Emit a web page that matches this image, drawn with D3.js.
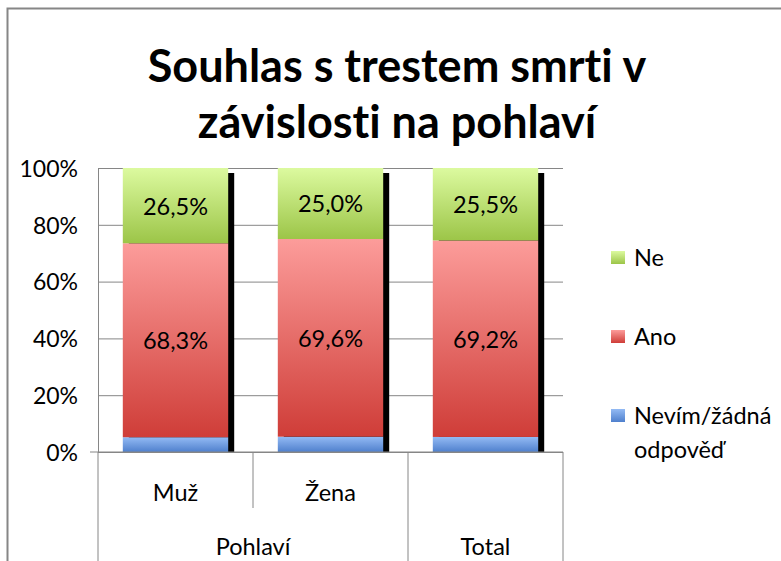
<!DOCTYPE html>
<html>
<head>
<meta charset="utf-8">
<script src="https://cdn.jsdelivr.net/npm/d3@7"></script>
<style>
  body { margin: 0; background: #fff; }
  svg text { font-family: Lato, "Open Sans", sans-serif; fill: #000; font-variant-ligatures: none; font-feature-settings: "liga" 0, "clig" 0; }
</style>
</head>
<body>
<div id="chart"></div>
<script>
// data
const title = ["Souhlas s trestem smrti v", "závislosti na pohlaví"];
const categories = ["Muž", "Žena", "Total"];
const groups = [{ name: "Pohlaví", span: ["Muž", "Žena"] }, { name: "Total", span: ["Total"] }];
const seriesNames = ["Nevím/žádná odpověď", "Ano", "Ne"];
const nevim = [5.2, 5.4, 5.3];
const ano = [68.3, 69.6, 69.2];
const ne = [26.5, 25.0, 25.5];
const yTicks = [0, 20, 40, 60, 80, 100];

const W = 781, H = 561;
const margin = { top: 168, left: 98, right: 218, bottom: 109 };
const width = W - margin.left - margin.right;
const height = H - margin.top - margin.bottom;

const svg = d3.select("#chart").append("svg")
    .attr("width", W)
    .attr("height", H);

// gradients
const colors = {
    "Ne": ["#dcfa9f", "#9cc548"],
    "Ano": ["#fc9c9a", "#cf3d38"],
    "Nevím/žádná odpověď": ["#93baf4", "#4f80cd"]
};
const defs = svg.append("defs");
seriesNames.forEach((s, i) => {
    const g = defs.append("linearGradient")
        .attr("id", "grad" + i)
        .attr("x1", 0).attr("y1", 0).attr("x2", 0).attr("y2", 1);
    g.append("stop").attr("offset", "0%").attr("stop-color", colors[s][0]);
    g.append("stop").attr("offset", "100%").attr("stop-color", colors[s][1]);
});

// outer frame
svg.append("rect")
    .attr("x", 7.5).attr("y", 8.5)
    .attr("width", W + 20).attr("height", H + 20)
    .attr("fill", "none")
    .attr("stroke", "#868686")
    .attr("stroke-width", 2);

// title
svg.append("text")
    .attr("text-anchor", "middle")
    .style("font-weight", "bold")
    .style("font-size", "45px")
    .selectAll("tspan")
    .data(title)
    .join("tspan")
    .attr("x", 397)
    .attr("y", (d, i) => 82 + i * 56)
    .text(d => d);

const g = svg.append("g")
    .attr("transform", "translate(" + margin.left + "," + margin.top + ")");

const x = d3.scaleBand().domain(categories).range([0, width]).paddingInner(0.32).paddingOuter(0.16);
const y = d3.scaleLinear().domain([0, 100]).range([height, 0]);

// gridlines + y axis
const yAxis = g.append("g")
    .call(d3.axisLeft(y).tickValues(yTicks).tickFormat(d => d + "%").tickSize(6).tickSizeOuter(0));
yAxis.select(".domain").attr("stroke", "#868686");
yAxis.selectAll(".tick line").attr("stroke", "#868686").attr("x2", width);
yAxis.selectAll(".tick text")
    .attr("x", -20)
    .attr("dy", "0.36em")
    .style("font-size", "23px")
    .style("font-family", "Lato, sans-serif");

// stacked data
const rows = categories.map((c, i) => ({ cat: c, "Nevím/žádná odpověď": nevim[i], "Ano": ano[i], "Ne": ne[i] }));
const stack = d3.stack().keys(seriesNames)(rows);

// shadows
g.append("g").selectAll("rect")
    .data(rows)
    .join("rect")
    .attr("x", d => x(d.cat) + 6)
    .attr("y", y(100) + 5)
    .attr("width", x.bandwidth())
    .attr("height", y(0) - y(100) - 5)
    .attr("fill", "#000");

// bars
stack.forEach((layer, i) => {
    g.append("g").selectAll("rect")
        .data(layer)
        .join("rect")
        .attr("x", d => x(d.data.cat))
        .attr("y", d => y(d[1]))
        .attr("width", x.bandwidth())
        .attr("height", d => y(d[0]) - y(d[1]))
        .attr("fill", "url(#grad" + i + ")");
});

// labels (Ano, Ne)
stack.slice(1).forEach(layer => {
    g.append("g").selectAll("text")
        .data(layer)
        .join("text")
        .attr("x", d => x(d.data.cat) + x.bandwidth() / 2)
        .attr("y", d => (y(d[0]) + y(d[1])) / 2)
        .attr("dy", "0.38em")
        .attr("text-anchor", "middle")
        .style("font-size", "23.5px")
        .text(d => (d[1] - d[0]).toFixed(1).replace(".", ",") + "%");
});

// category axis (two levels)
const step = x.step();
const axisG = g.append("g").attr("transform", "translate(0," + height + ")");
axisG.append("line")
    .attr("x1", -8).attr("x2", width)
    .attr("stroke", "#868686");
const bounds = [0, step, 2 * step, 3 * step];
axisG.selectAll(".sep")
    .data(bounds)
    .join("line")
    .attr("class", "sep")
    .attr("x1", d => d).attr("x2", d => d)
    .attr("y1", 0)
    .attr("y2", (d, i) => (i === 1 ? 56 : margin.bottom + 10))
    .attr("stroke", "#868686");
axisG.selectAll(".cat")
    .data(["Muž", "Žena"])
    .join("text")
    .attr("class", "cat")
    .attr("x", d => x(d) + x.bandwidth() / 2)
    .attr("y", 49)
    .attr("text-anchor", "middle")
    .style("font-size", "23.5px")
    .text(d => d);
axisG.selectAll(".grp")
    .data(groups)
    .join("text")
    .attr("class", "grp")
    .attr("x", d => {
        const a = x(d.span[0]) - x.step() * x.paddingOuter();
        const b = x(d.span[d.span.length - 1]) + x.bandwidth() + x.step() * x.paddingOuter();
        return (a + b) / 2;
    })
    .attr("y", 103)
    .attr("text-anchor", "middle")
    .style("font-size", "23.5px")
    .text(d => d.name);

// legend
const legendItems = [
    { name: "Ne", lines: ["Ne"], idx: 2, y: 251 },
    { name: "Ano", lines: ["Ano"], idx: 1, y: 330 },
    { name: "Nevím/žádná odpověď", lines: ["Nevím/žádná", "odpověď"], idx: 0, y: 409 }
];
const legend = svg.append("g");
const li = legend.selectAll("g")
    .data(legendItems)
    .join("g")
    .attr("transform", d => "translate(611," + d.y + ")");
li.append("rect")
    .attr("width", 14).attr("height", 13)
    .attr("fill", d => "url(#grad" + d.idx + ")");
li.append("text")
    .style("font-size", "23.5px")
    .selectAll("tspan")
    .data(d => d.lines)
    .join("tspan")
    .attr("x", 23)
    .attr("y", (d, i) => 15 + i * 34)
    .text(d => d);
</script>
</body>
</html>
